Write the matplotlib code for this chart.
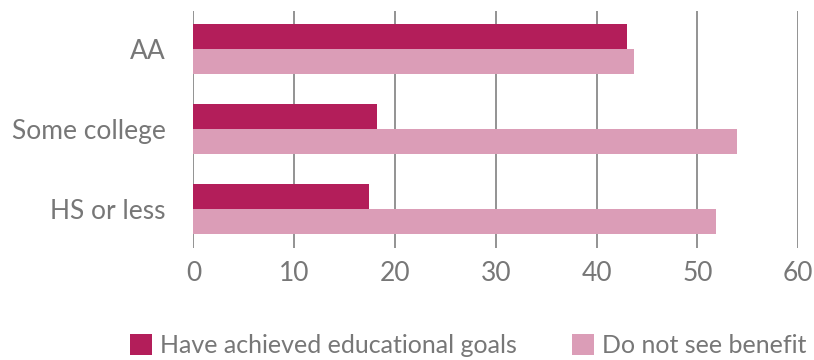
import matplotlib
matplotlib.use("Agg")
import matplotlib.pyplot as plt
from matplotlib.patches import Patch
import numpy as np

# 資料
categories = ["HS or less", "Some college", "AA"]
achieved = [17.4, 18.2, 43.0]
no_benefit = [51.8, 53.9, 43.7]
series_names = ["Have achieved educational goals", "Do not see benefit"]
x_ticks = [0, 10, 20, 30, 40, 50, 60]

# 樣式
STYLE = {
    "dark": "#b31e5a",
    "light": "#db9db7",
    "text": "#777777",
    "grid": "#8a8a8a",
}

plt.rcParams["font.family"] = ["Lato", "DejaVu Sans"]

fig = plt.figure(figsize=(8.14, 3.6), dpi=100)
ax = fig.add_axes([0.2377, 0.311, 0.7430, 0.658])

y = np.arange(len(categories))
h = 0.31
ax.barh(y + h / 2, achieved, height=h, color=STYLE["dark"], zorder=3)
ax.barh(y - h / 2, no_benefit, height=h, color=STYLE["light"], zorder=3)

ax.set_xlim(0, 60)
ax.set_ylim(-0.49, 2.475)
ax.set_xticks(x_ticks)
ax.set_xticklabels([str(t) for t in x_ticks])
ax.set_yticks(y)
ax.set_yticklabels(categories)

ax.grid(True, axis="x", color=STYLE["grid"], linewidth=1.3, zorder=0)
ax.grid(False, axis="y")
for spine in ax.spines.values():
    spine.set_visible(False)
ax.tick_params(length=0, labelsize=19, colors=STYLE["text"])
ax.tick_params(axis="x", pad=9)
ax.tick_params(axis="y", pad=20)

handles = [Patch(facecolor=STYLE["dark"]), Patch(facecolor=STYLE["light"])]
fig.legend(handles, series_names, loc="center", bbox_to_anchor=(0.575, 0.04),
           ncol=2, frameon=False, fontsize=18, labelcolor=STYLE["text"],
           handlelength=0.9, handleheight=0.9, handletextpad=0.3,
           columnspacing=2.2)

fig.savefig("out.png", dpi=100, facecolor="white")
